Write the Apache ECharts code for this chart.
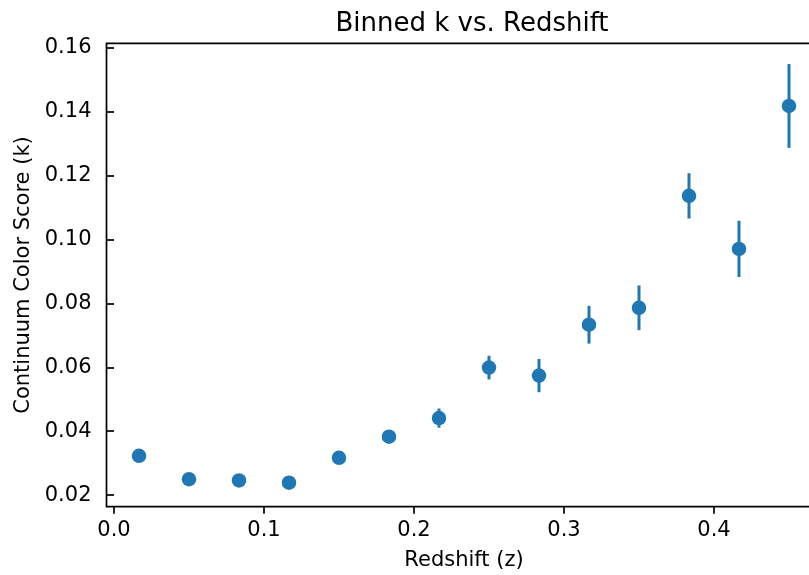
<!DOCTYPE html>
<html>
<head>
<meta charset="utf-8">
<script src="https://cdn.jsdelivr.net/npm/echarts@6/dist/echarts.min.js"></script>
<style>html,body{margin:0;padding:0;background:#fff}#c{width:809px;height:575px}</style>
</head>
<body>
<div id="c"></div>
<script>
const redshift = [0.016667, 0.05, 0.083333, 0.116667, 0.15, 0.183333, 0.216667, 0.25, 0.283333, 0.316667, 0.35, 0.383333, 0.416667, 0.45];
const kValues = [0.0323, 0.0250, 0.0246, 0.0239, 0.0317, 0.0383, 0.0441, 0.0599, 0.0574, 0.0733, 0.0786, 0.1136, 0.0970, 0.1417];
const kErrors = [0.0008, 0.0008, 0.0008, 0.0009, 0.0009, 0.0012, 0.0030, 0.0037, 0.0052, 0.0059, 0.0070, 0.0071, 0.0088, 0.0131];
const xTicks = [0.0, 0.1, 0.2, 0.3, 0.4];
const yTicks = [0.02, 0.04, 0.06, 0.08, 0.10, 0.12, 0.14, 0.16];

const FONT = 'DejaVu Sans';
const COLOR = '#1f77b4';
const points = redshift.map((x, i) => [x, kValues[i], kErrors[i]]);

const chart = echarts.init(document.getElementById('c'), null, {renderer: 'canvas'});
chart.setOption({
  animation: false,
  backgroundColor: '#fff',
  title: {
    text: 'Binned k vs. Redshift',
    left: 467, top: 6, textAlign: 'center',
    textStyle: {fontFamily: FONT, fontSize: 26, fontWeight: 'normal', color: '#000'}
  },
  grid: {
    left: 106.5, top: 43.3, right: -12.5, bottom: 68.3,
    outerBoundsMode: 'none', containLabel: false,
    show: true, borderColor: '#000', borderWidth: 1.7, backgroundColor: 'transparent'
  },
  xAxis: {
    type: 'value', min: -0.005, max: 0.471667,
    name: 'Redshift (z)', nameLocation: 'middle', nameGap: 43,
    nameTextStyle: {fontFamily: FONT, fontSize: 21, color: '#000'},
    splitLine: {show: false},
    axisLine: {show: false},
    axisTick: {show: true, length: 7, inside: false, lineStyle: {color: '#000', width: 1.7}, customValues: xTicks},
    axisLabel: {fontFamily: FONT, fontSize: 21, color: '#000', margin: 13, customValues: xTicks,
      formatter: v => v.toFixed(1)}
  },
  yAxis: {
    type: 'value', min: 0.0164, max: 0.1613,
    name: 'Continuum Color Score (k)', nameLocation: 'middle', nameGap: 70,
    nameTextStyle: {fontFamily: FONT, fontSize: 21, color: '#000'},
    splitLine: {show: false},
    axisLine: {show: false},
    axisTick: {show: true, length: 7, inside: false, lineStyle: {color: '#000', width: 1.7}, customValues: yTicks},
    axisLabel: {fontFamily: FONT, fontSize: 21, color: '#000', margin: 15, customValues: yTicks,
      formatter: v => v.toFixed(2)}
  },
  series: [
    {
      type: 'custom',
      z: 1,
      data: points,
      renderItem: (params, api) => {
        const x = api.value(0), y = api.value(1), e = api.value(2);
        const p1 = api.coord([x, y - e]);
        const p2 = api.coord([x, y + e]);
        return {type: 'line', shape: {x1: p1[0], y1: p1[1], x2: p2[0], y2: p2[1]},
          style: {stroke: COLOR, lineWidth: 3}};
      },
      encode: {x: 0, y: 1}
    },
    {
      type: 'scatter',
      z: 2,
      data: points.map(p => [p[0], p[1]]),
      symbol: 'circle',
      symbolSize: 14.5,
      itemStyle: {color: COLOR, opacity: 1}
    }
  ]
});
</script>
</body>
</html>
